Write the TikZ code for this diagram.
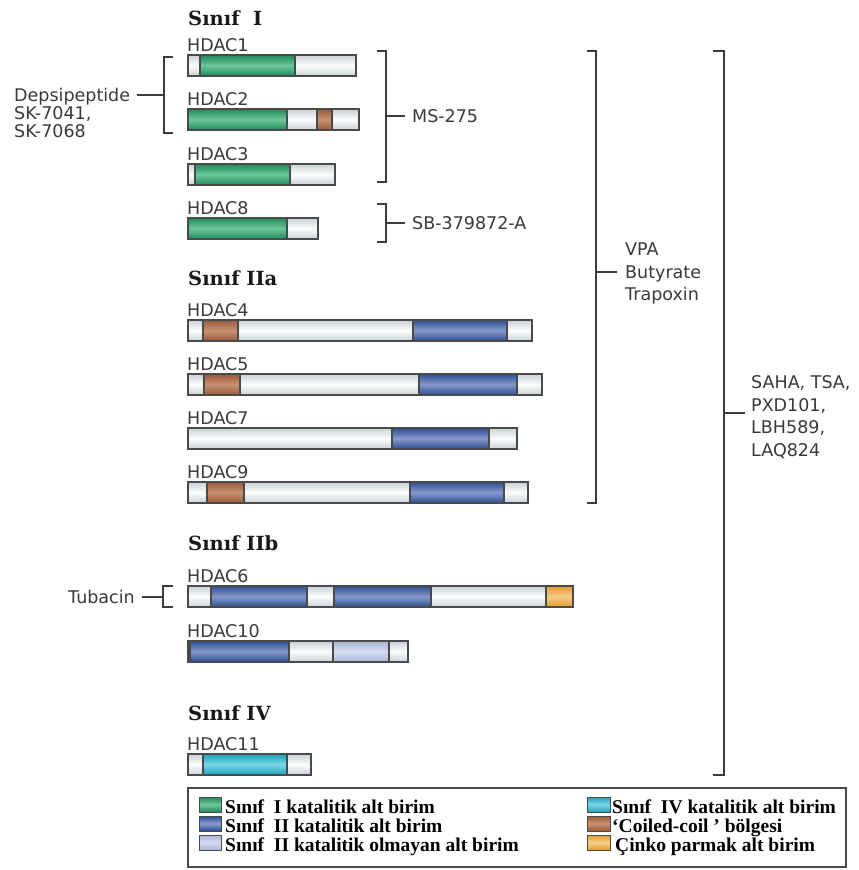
\documentclass[tikz,border=0pt]{standalone}
\usepackage{fontspec}
\setmainfont{DejaVu Sans}
\newfontfamily\titlefont{DejaVu Serif}
\newfontfamily\legendfont{Liberation Serif}
\definecolor{barline}{HTML}{4A4A4A}
\definecolor{brkgray}{HTML}{3C3C3C}
\definecolor{labelgray}{HTML}{3A3A3A}
\definecolor{plainedge}{HTML}{C9D2D6}
\definecolor{plainmid}{HTML}{FBFCFC}
\definecolor{greenedge}{HTML}{1E8A57}
\definecolor{greenmid}{HTML}{6DC79C}
\definecolor{blueedge}{HTML}{2B4F92}
\definecolor{bluemid}{HTML}{8799CB}
\definecolor{lblueedge}{HTML}{A9B3DA}
\definecolor{lbluemid}{HTML}{D5DBEF}
\definecolor{brownedge}{HTML}{9A5A3A}
\definecolor{brownmid}{HTML}{C89274}
\definecolor{orangeedge}{HTML}{E39A2E}
\definecolor{orangemid}{HTML}{F5CD8A}
\definecolor{cyanedge}{HTML}{1BA3BD}
\definecolor{cyanmid}{HTML}{7CD6E6}
\begin{document}
\begin{tikzpicture}
		[x=1pt,y=-1pt,
		bar/.style={draw=barline,line width=1.3pt},
		plain/.style={top color=plainedge,bottom color=plainedge,middle color=plainmid},
		clsI/.style={top color=greenedge,bottom color=greenedge,middle color=greenmid},
		clsII/.style={top color=blueedge,bottom color=blueedge,middle color=bluemid},
		clsIInc/.style={top color=lblueedge,bottom color=lblueedge,middle color=lbluemid},
		coil/.style={top color=brownedge,bottom color=brownedge,middle color=brownmid},
		zinc/.style={top color=orangeedge,bottom color=orangeedge,middle color=orangemid},
		clsIV/.style={top color=cyanedge,bottom color=cyanedge,middle color=cyanmid},
		lbl/.style={font=\fontsize{17.5}{20}\selectfont,text=labelgray,inner sep=0pt,anchor=base west},
		classtitle/.style={font=\titlefont\bfseries\fontsize{19.5}{22}\selectfont,text=black!90,inner sep=0pt,anchor=base west},
		drug/.style={font=\fontsize{17.5}{22.5}\selectfont,text=labelgray,inner sep=0pt,align=left},
		brk/.style={draw=brkgray,line width=1.2pt},
		legtxt/.style={font=\legendfont\bfseries\fontsize{19.5}{19}\selectfont,inner sep=0pt,anchor=base west}]
		\useasboundingbox[fill=white] (0,0) rectangle (859,870);
		% class titles
		\node[classtitle,name=t1] at (188,25) {Sınıf~ I};
		\node[classtitle,name=t2] at (188,285) {Sınıf IIa};
		\node[classtitle,name=t3] at (188,550) {Sınıf IIb};
		\node[classtitle,name=t4] at (188,720) {Sınıf IV};
		% bars
		\foreach \n/\y/\e in {1/55/356,2/109/359,3/164/335,8/218/318,4/320/532,5/374/542,7/428/517,9/482/528,6/586/573,10/641/408,11/754/311}
		{
			\node[lbl,name=hdac\n] at (187,\y-4) {HDAC\n};
			\draw[bar,plain] (188,\y) rectangle (\e,\y+21);
		}
		% domains
		\foreach \y/\a/\b/\c in {55/200/295/clsI,109/188/287/clsI,109/317/332/coil,164/195/290/clsI,218/188/287/clsI,
			320/203/238/coil,320/413/507/clsII,374/204/240/coil,374/419/517/clsII,428/392/489/clsII,
			482/207/244/coil,482/410/504/clsII,586/211/307/clsII,586/334/431/clsII,586/546/573/zinc,
			641/190/289/clsII,641/333/389/clsIInc,754/203/287/clsIV}
		{
			\draw[bar,\c] (\a,\y) rectangle (\b,\y+21);
		}
		% inhibitors
		\node[drug,anchor=north west,font=\fontsize{17.5}{18}\selectfont,name=deps] at (14,88) {Depsipeptide\\SK-7041,\\SK-7068};
		\draw[brk] (173,57) -| (164,133) -- (173,133);
		\coordinate (depstick) at (164,95);
		\draw[brk,shorten >=7pt] (depstick) -- (depstick -| deps.east);

		\node[drug,anchor=base west,name=ms] at (412,122) {MS-275};
		\draw[brk] (377,51) -| (386,182) -- (377,182);
		\coordinate (mstick) at (386,116);
		\draw[brk,shorten >=7pt] (mstick) -- (mstick -| ms.west);

		\node[drug,anchor=base west,name=sb] at (412,229) {SB-379872-A};
		\draw[brk] (377,204) -| (386,242) -- (377,242);
		\coordinate (sbtick) at (386,223);
		\draw[brk,shorten >=7pt] (sbtick) -- (sbtick -| sb.west);

		\node[drug,anchor=north west,name=vpa] at (625,242.6) {VPA\\Butyrate\\Trapoxin};
		\draw[brk] (587,51) -| (596,503) -- (587,503);
		\coordinate (vpatick) at (596,272);
		\draw[brk,shorten >=8pt] (vpatick) -- (vpatick -| vpa.west);

		\node[drug,anchor=north west,name=saha] at (751,375.6) {SAHA, TSA,\\PXD101,\\LBH589,\\LAQ824};
		\draw[brk] (713,51) -| (724,775) -- (713,775);
		\coordinate (sahatick) at (724,413);
		\draw[brk,shorten >=6pt] (sahatick) -- (sahatick -| saha.west);

		\node[drug,anchor=base west,name=tub] at (68,603) {Tubacin};
		\draw[brk] (173,586) -| (163,607) -- (173,607);
		\coordinate (tubtick) at (163,597);
		\draw[brk,shorten >=7pt] (tubtick) -- (tubtick -| tub.east);
		% legend
		\draw[draw=barline,line width=1.5pt] (188,788) rectangle (846,867);
		\foreach \r/\c/\t in {0/clsI/{Sınıf~ I katalitik alt birim},1/clsII/{Sınıf~ II katalitik alt birim},2/clsIInc/{Sınıf~ II katalitik olmayan alt birim}}
		{
			\draw[bar,line width=1pt,\c] (199,797+19*\r) rectangle (221,812+19*\r);
			\node[legtxt,name=legl\r] at (225,813+19*\r) {\t};
		}
		\foreach \r/\c/\t in {0/clsIV/{Sınıf~ IV katalitik alt birim},1/coil/{‘Coiled-coil ’ bölgesi},2/zinc/{\hspace{3pt}Çinko parmak alt birim}}
		{
			\draw[bar,line width=1pt,\c] (587,797+19*\r) rectangle (610,812+19*\r);
			\node[legtxt,name=legr\r] at (612,813+19*\r) {\t};
		}
	\end{tikzpicture}
\end{document}
